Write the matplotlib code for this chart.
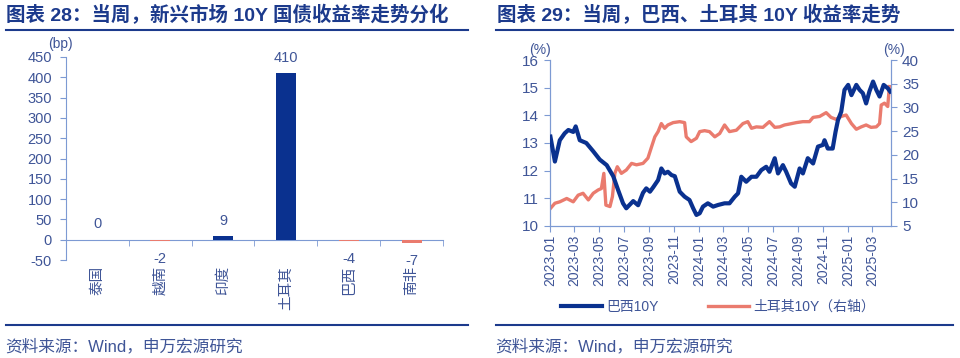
import numpy as np
import pandas as pd
import matplotlib
matplotlib.use("Agg")
import matplotlib.pyplot as plt
import matplotlib.dates as mdates
from matplotlib.lines import Line2D

plt.rcParams['font.family'] = ['Liberation Sans', 'Noto Sans CJK SC', 'DejaVu Sans']
plt.rcParams['axes.unicode_minus'] = False

# left: weekly change in 10Y yields (bp)
countries = ['泰国', '越南', '印度', '土耳其', '巴西', '南非']
changes = [0, -2, 9, 410, -4, -7]

# right: Brazil 10Y (left axis) and Turkey 10Y (right axis)
brazil_dates = ['2023-01-02', '2023-01-13', '2023-01-25', '2023-02-06', '2023-02-15', '2023-02-27',
                '2023-03-05', '2023-03-15', '2023-03-31', '2023-04-17', '2023-05-03', '2023-05-20',
                '2023-06-05', '2023-06-17', '2023-06-29', '2023-07-07', '2023-07-24', '2023-08-05',
                '2023-08-17', '2023-08-25', '2023-09-03', '2023-09-11', '2023-09-23', '2023-10-01',
                '2023-10-09', '2023-10-17', '2023-10-26', '2023-11-03', '2023-11-15', '2023-11-27',
                '2023-12-09', '2023-12-18', '2023-12-26', '2024-01-03', '2024-01-11', '2024-01-23',
                '2024-02-05', '2024-02-17', '2024-03-04', '2024-03-16', '2024-03-29', '2024-04-06',
                '2024-04-14', '2024-04-26', '2024-05-09', '2024-05-21', '2024-06-02', '2024-06-14',
                '2024-06-22', '2024-07-05', '2024-07-13', '2024-07-25', '2024-08-02', '2024-08-14',
                '2024-08-23', '2024-09-04', '2024-09-12', '2024-09-24', '2024-10-07', '2024-10-19',
                '2024-10-31', '2024-11-04', '2024-11-12', '2024-11-24', '2024-12-01', '2024-12-07',
                '2024-12-15', '2024-12-23', '2025-01-01', '2025-01-09', '2025-01-21', '2025-01-29',
                '2025-02-06', '2025-02-14', '2025-02-22', '2025-03-03', '2025-03-11', '2025-03-19',
                '2025-03-29', '2025-04-08', '2025-04-14']
brazil_10y = [13.23, 12.33, 13.1, 13.35, 13.47, 13.4,
              13.6, 13.1, 13.0, 12.7, 12.4, 12.2,
              11.8, 11.3, 10.82, 10.64, 10.9, 10.75,
              11.2, 11.36, 11.24, 11.4, 11.66, 12.08,
              11.9, 11.96, 11.84, 11.8, 11.24, 11.06,
              10.94, 10.64, 10.4, 10.46, 10.7, 10.82,
              10.7, 10.76, 10.82, 10.82, 11.06, 11.18,
              11.78, 11.6, 11.78, 11.78, 12.02, 12.14,
              11.96, 12.45, 11.9, 12.2, 11.96, 11.54,
              11.42, 12.08, 11.9, 12.45, 12.26, 12.87,
              12.93, 13.1, 12.8, 12.8, 13.4, 13.83,
              14.13, 14.92, 15.1, 14.73, 15.1, 14.92,
              14.8, 14.43, 14.86, 15.22, 14.92, 14.68,
              15.1, 14.98, 14.86]

turkey_dates = ['2023-01-02', '2023-01-13', '2023-01-25', '2023-02-11', '2023-02-27', '2023-03-11',
                '2023-03-23', '2023-04-05', '2023-04-17', '2023-04-29', '2023-05-07', '2023-05-13',
                '2023-05-18', '2023-05-28', '2023-06-03', '2023-06-09', '2023-06-15', '2023-06-25',
                '2023-07-07', '2023-07-20', '2023-08-01', '2023-08-17', '2023-08-29', '2023-09-07',
                '2023-09-15', '2023-09-23', '2023-10-01', '2023-10-09', '2023-10-17', '2023-10-30',
                '2023-11-15', '2023-11-27', '2023-12-01', '2023-12-13', '2023-12-26', '2024-01-03',
                '2024-01-15', '2024-01-27', '2024-02-09', '2024-02-21', '2024-03-04', '2024-03-16',
                '2024-04-02', '2024-04-18', '2024-04-30', '2024-05-09', '2024-05-21', '2024-06-06',
                '2024-06-22', '2024-07-05', '2024-07-17', '2024-07-29', '2024-08-10', '2024-08-27',
                '2024-09-12', '2024-09-28', '2024-10-07', '2024-10-23', '2024-11-08', '2024-11-20',
                '2024-12-02', '2024-12-15', '2024-12-27', '2025-01-09', '2025-01-21', '2025-02-02',
                '2025-02-14', '2025-02-26', '2025-03-11', '2025-03-19', '2025-03-23', '2025-03-31',
                '2025-04-08', '2025-04-12']
turkey_10y = [8.7, 9.8, 10.1, 10.8, 10.1, 11.5,
              11.9, 10.5, 11.9, 12.6, 12.9, 16.1,
              9.4, 9.1, 11.2, 16.1, 17.5, 16.1,
              16.8, 18.2, 17.9, 18.2, 19.3, 21.7,
              23.8, 24.9, 26.6, 25.6, 26.3, 26.8,
              27.0, 26.8, 23.8, 22.8, 23.5, 24.9,
              25.1, 24.9, 23.8, 24.5, 26.3, 24.9,
              25.2, 26.6, 27.0, 25.6, 25.9, 25.8,
              27.0, 25.8, 25.9, 26.3, 26.5, 26.8,
              27.0, 27.0, 27.9, 28.1, 28.9, 27.9,
              27.5, 28.1, 28.4, 26.6, 25.4, 25.9,
              26.3, 25.8, 25.9, 26.6, 30.5, 30.9,
              30.2, 34.4]

blue = '#0a318f'
salmon = '#ea7b6e'
axis_col = '#7d9ad3'
text_col = '#3f5597'
title_col = '#1c3a8c'

fig = plt.figure(figsize=(9.6, 3.58), dpi=100)

# ---------------- left panel ----------------
ax = fig.add_axes([66 / 960, 1 - 260 / 358, (443 - 66) / 960, (260 - 57) / 358])
x = np.arange(len(countries))
cols = [blue if v >= 0 else salmon for v in changes]
ax.bar(x, changes, width=0.32, color=cols, zorder=3)
ax.set_xlim(-0.5, 5.5)
ax.set_ylim(-50, 450)
ax.set_yticks(np.arange(-50, 451, 50))
for s in ['top', 'right']:
    ax.spines[s].set_visible(False)
ax.spines['bottom'].set_position(('data', 0))
ax.spines['bottom'].set_color(axis_col)
ax.spines['left'].set_color(axis_col)
ax.set_xticks([])
ax.set_xticks(np.arange(0.5, 6.0, 1), minor=True)
ax.tick_params(axis='x', which='minor', length=4, color=axis_col, direction='out')
ax.tick_params(axis='y', length=4, color=axis_col, labelcolor=text_col, labelsize=10.5, pad=6)
for i, v in enumerate(changes):
    if v >= 0:
        ax.annotate(str(v), (i, v), xytext=(0, 6), textcoords='offset points',
                    ha='center', va='bottom', color=text_col, fontsize=10.5)
    else:
        ax.annotate(str(v), (i, v), xytext=(0, -8), textcoords='offset points',
                    ha='center', va='top', color=text_col, fontsize=10.5)
    ax.text(i, -0.03, countries[i], transform=ax.get_xaxis_transform(), rotation=90,
            ha='center', va='top', color=text_col, fontsize=10.5)
ax.text(-0.015, 1.03, '(bp)', transform=ax.transAxes, ha='center', va='bottom',
        color=text_col, fontsize=10)

# ---------------- right panel ----------------
ax2 = fig.add_axes([550 / 960, 1 - 226 / 358, (891 - 550) / 960, (226 - 60) / 358])
ax3 = ax2.twinx()
bd = pd.to_datetime(brazil_dates)
td = pd.to_datetime(turkey_dates)
ax3.plot(td, turkey_10y, color=salmon, lw=2.4, zorder=2)
ax2.plot(bd, brazil_10y, color=blue, lw=3, zorder=3)
ax2.set_zorder(ax3.get_zorder() + 1)
ax2.patch.set_visible(False)
ax2.set_ylim(10, 16)
ax2.set_yticks(np.arange(10, 17, 1))
ax3.set_ylim(5, 40)
ax3.set_yticks(np.arange(5, 41, 5))
ax2.set_xlim(pd.Timestamp('2023-01-01'), pd.Timestamp('2025-04-16'))
ax2.xaxis.set_major_locator(mdates.MonthLocator(bymonth=[1, 3, 5, 7, 9, 11]))
ax2.xaxis.set_major_formatter(mdates.DateFormatter('%Y-%m'))
for a in (ax2, ax3):
    a.spines['top'].set_visible(False)
    for s in ['left', 'right', 'bottom']:
        a.spines[s].set_color(axis_col)
ax2.tick_params(axis='x', rotation=90, length=4, color=axis_col, labelcolor=text_col,
                labelsize=10, pad=2)
ax2.tick_params(axis='y', length=4, color=axis_col, labelcolor=text_col, labelsize=11, pad=4)
ax3.tick_params(axis='y', length=4, color=axis_col, labelcolor=text_col, labelsize=11, pad=4)
ax2.text(-0.03, 1.02, '(%)', transform=ax2.transAxes, ha='center', va='bottom',
         color=text_col, fontsize=10)
ax2.text(1.01, 1.02, '(%)', transform=ax2.transAxes, ha='center', va='bottom',
         color=text_col, fontsize=10)

handles = [Line2D([], [], color=blue, lw=3), Line2D([], [], color=salmon, lw=2.4)]
fig.legend(handles, ['巴西10Y', '土耳其10Y（右轴）'], loc='center', ncol=2,
           bbox_to_anchor=(718 / 960, 1 - 307 / 358), frameon=False, fontsize=10,
           labelcolor=text_col, handlelength=3.0, handletextpad=0.3, columnspacing=3.5)

# ---------------- titles, rules, sources ----------------
fig.text(6 / 960, 1 - 15 / 358, '图表 28：当周，新兴市场 10Y 国债收益率走势分化',
         ha='left', va='center', fontsize=14, fontweight='bold', color=title_col)
fig.text(497 / 960, 1 - 15 / 358, '图表 29：当周，巴西、土耳其 10Y 收益率走势',
         ha='left', va='center', fontsize=14, fontweight='bold', color=title_col)
for x0, x1 in [(6, 468), (496, 953)]:
    fig.add_artist(Line2D([x0 / 960, x1 / 960], [1 - 29.5 / 358] * 2, color=title_col, lw=1.5))
    fig.add_artist(Line2D([x0 / 960, x1 / 960], [1 - 325 / 358] * 2, color=title_col, lw=1.5))
fig.text(5 / 960, 1 - 346 / 358, '资料来源：Wind，申万宏源研究', ha='left', va='center',
         fontsize=12, color=text_col)
fig.text(495 / 960, 1 - 346 / 358, '资料来源：Wind，申万宏源研究', ha='left', va='center',
         fontsize=12, color=text_col)

fig.savefig('out.png', dpi=100)
